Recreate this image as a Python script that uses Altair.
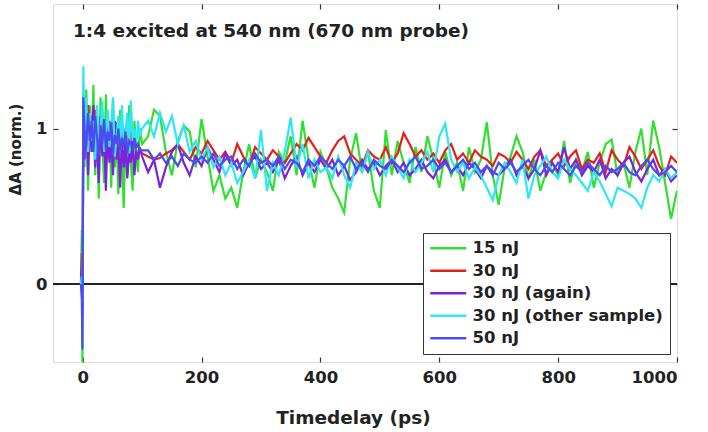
import altair as alt
import pandas as pd

# ---- data ----
TIME = [-3, -1.5, -0.5, 0, 1,
        3, 6, 9, 12, 15, 18, 21, 24, 27, 30, 33, 36, 39, 42, 45, 48,
        51, 54, 57, 60, 63, 66, 69, 72, 75, 78, 81, 84, 87, 90, 93, 96,
        100,
        110, 120, 130, 140, 150, 160, 170, 180, 190, 200,
        210, 220, 230, 240, 250, 260, 270, 280, 290, 300,
        310, 320, 330, 340, 350, 360, 370, 380, 390, 400,
        410, 420, 430, 440, 450, 460, 470, 480, 490, 500,
        510, 520, 530, 540, 550, 560, 570, 580, 590, 600,
        610, 620, 630, 640, 650, 660, 670, 680, 690, 700,
        710, 720, 730, 740, 750, 760, 770, 780, 790, 800,
        810, 820, 830, 840, 850, 860, 870, 880, 890, 900,
        910, 920, 930, 940, 950, 960, 970, 980, 990, 1000]

SERIES = ["15 nJ", "30 nJ", "30 nJ (again)", "30 nJ (other sample)", "50 nJ"]
COLORS = ["#2fe02f", "#e3211c", "#7a22dc", "#30e6f4", "#4b4cee"]

green = [0.0, 0.35, -0.55, 0.2, 1.15,
         0.75, 1.25, 0.60, 1.15, 0.85, 1.28, 0.70, 1.10, 0.55, 1.20,
         0.90, 0.65, 1.22, 0.80, 1.05, 0.62, 1.18, 0.75, 0.95, 0.58,
         1.12, 0.82, 0.49, 1.00, 0.70, 1.15, 0.78, 0.60, 1.05, 0.85,
         0.72, 1.00,
         0.90,
         0.95, 1.12, 1.08, 0.85, 0.70, 0.92, 1.02, 0.98, 0.75, 1.06,
         0.82, 0.60, 0.70, 0.55, 0.62, 0.49, 0.72, 0.90, 0.68, 0.80,
         0.72, 0.60, 0.85, 0.78, 0.95, 0.70, 1.05, 0.80, 0.62, 0.85,
         0.75, 0.62, 0.55, 0.46, 0.80, 0.97, 0.72, 0.85, 0.60, 0.49,
         0.99, 0.70, 0.92, 0.78, 0.65, 0.88, 0.72, 0.95, 0.80, 0.62,
         0.85, 0.70, 0.78, 0.60, 0.88, 0.72, 0.80, 1.04, 0.70, 0.51,
         0.75, 0.82, 0.95, 0.85, 0.68, 0.80, 0.60, 0.72, 0.78, 0.70,
         0.92, 0.65, 0.80, 0.72, 0.85, 0.62, 0.78, 0.90, 0.93, 0.70,
         0.78, 0.62, 0.85, 1.00, 0.70, 1.05, 0.88, 0.65, 0.42, 0.60]

red = [0.0, 0.2, -0.15, 0.1, 1.22,
       1.05, 0.95, 1.15, 0.90, 1.08, 0.98, 1.12, 0.88, 1.02, 0.95,
       1.10, 0.85, 1.00, 0.92, 1.05, 0.88, 0.98, 0.90, 1.04, 0.86,
       0.96, 0.92, 1.00, 0.85, 0.95, 0.90, 0.98, 0.84, 0.92, 0.88,
       0.90, 0.86,
       0.84,
       0.82, 0.80, 0.81, 0.84, 0.86, 0.90, 0.85, 0.80, 0.88, 0.84,
       0.92, 0.86, 0.80, 0.85, 0.78, 0.90, 0.82, 0.76, 0.88, 0.84,
       0.80, 0.86, 0.82, 0.78, 0.84, 0.90, 0.86, 0.94, 0.88, 0.82,
       0.78, 0.86, 0.92, 0.95, 0.84, 0.80, 0.76, 0.86, 0.82, 0.80,
       0.88, 0.78, 0.84, 0.97, 0.90, 0.82, 0.86, 0.80, 0.84, 0.78,
       0.86, 0.90, 0.80, 0.84, 0.78, 0.86, 0.82, 0.80, 0.76, 0.84,
       0.82, 0.78, 0.85, 0.80, 0.74, 0.82, 0.86, 0.76, 0.80, 0.84,
       0.76, 0.82, 0.86, 0.74, 0.80, 0.78, 0.84, 0.72, 0.86, 0.80,
       0.76, 0.88, 0.82, 0.74, 0.80, 0.86, 0.76, 0.70, 0.82, 0.78]

purple = [0.0, 0.1, -0.2, 0.0, 1.10,
          0.80, 1.10, 0.70, 1.05, 0.85, 1.15, 0.75, 0.95, 0.65, 1.08,
          0.82, 0.98, 0.60, 1.02, 0.78, 0.92, 0.70, 1.05, 0.80, 0.88,
          0.62, 0.95, 0.75, 0.90, 0.68, 0.85, 0.78, 0.92, 0.70, 0.86,
          0.80, 0.88,
          0.82,
          0.72, 0.80, 0.62, 0.75, 0.85, 0.90, 0.78, 0.70, 0.82, 0.76,
          0.88, 0.80, 0.72, 0.84, 0.76, 0.80, 0.70, 0.78, 0.82, 0.74,
          0.78, 0.72, 0.80, 0.68, 0.76, 0.82, 0.70, 0.78, 0.72, 0.80,
          0.74, 0.80, 0.70, 0.76, 0.67, 0.72, 0.80, 0.74, 0.78, 0.70,
          0.76, 0.80, 0.72, 0.78, 0.70, 0.74, 0.80, 0.72, 0.68, 0.76,
          0.80, 0.72, 0.76, 0.70, 0.78, 0.74, 0.68, 0.76, 0.72, 0.70,
          0.74, 0.80, 0.70, 0.76, 0.68, 0.74, 0.86, 0.70, 0.78, 0.72,
          0.88, 0.74, 0.80, 0.70, 0.76, 0.72, 0.80, 0.68, 0.74, 0.70,
          0.78, 0.82, 0.72, 0.66, 0.74, 0.80, 0.70, 0.74, 0.66, 0.70]

cyan = [0.0, 0.05, -0.3, 0.0, 1.40,
        0.95, 1.20, 0.85, 1.10, 0.92, 1.05, 0.80, 1.15, 0.90, 1.00,
        1.18, 0.85, 0.98, 1.12, 0.88, 1.02, 1.20, 0.82, 0.95, 1.08,
        0.86, 1.15, 0.90, 0.98, 1.10, 0.84, 1.18, 0.92, 1.00, 0.88,
        1.05, 0.95,
        1.00,
        1.05, 0.95, 1.10, 0.98, 1.08, 0.90, 1.02, 0.85, 0.92, 0.80,
        0.88, 0.75, 0.82, 0.70, 0.78, 0.65, 0.72, 0.80, 0.68, 0.99,
        0.60, 0.78, 0.70, 0.85, 1.07, 0.75, 0.90, 0.68, 0.80, 0.72,
        0.75, 0.68, 0.82, 0.70, 0.62, 0.78, 0.72, 0.85, 0.74, 0.80,
        0.70, 0.82, 0.75, 0.68, 0.80, 0.72, 0.78, 0.85, 0.72, 0.95,
        1.03, 0.80, 0.72, 0.78, 0.68, 0.75, 0.70, 0.62, 0.54, 0.70,
        0.78, 0.72, 0.65, 0.80, 0.55, 0.70, 0.76, 0.82, 0.72, 0.68,
        0.80, 0.74, 0.70, 0.65, 0.60, 0.72, 0.66, 0.58, 0.50, 0.62,
        0.60, 0.58, 0.55, 0.49, 0.62, 0.70, 0.66, 0.74, 0.68, 0.72]

blue = [0.0, -0.1, -0.42, 0.0, 1.20,
        1.00, 0.88, 1.10, 0.92, 1.05, 0.85, 1.08, 0.95, 0.82, 1.02,
        0.90, 1.06, 0.86, 0.98, 0.92, 1.04, 0.84, 0.96, 0.90, 1.00,
        0.86, 0.94, 0.88, 0.98, 0.84, 0.92, 0.90, 0.86, 0.94, 0.88,
        0.90, 0.86,
        0.86,
        0.86, 0.80, 0.84, 0.78, 0.82, 0.76, 0.84, 0.80, 0.78, 0.82,
        0.78, 0.84, 0.76, 0.80, 0.82, 0.74, 0.80, 0.76, 0.84, 0.78,
        0.80, 0.76, 0.82, 0.74, 0.80, 0.78, 0.72, 0.80, 0.76, 0.82,
        0.78, 0.74, 0.80, 0.76, 0.82, 0.74, 0.78, 0.72, 0.80, 0.76,
        0.74, 0.80, 0.76, 0.72, 0.78, 0.82, 0.74, 0.76, 0.80, 0.74,
        0.78, 0.72, 0.76, 0.80, 0.74, 0.78, 0.72, 0.76, 0.70, 0.78,
        0.74, 0.78, 0.72, 0.76, 0.80, 0.74, 0.70, 0.76, 0.72, 0.78,
        0.74, 0.70, 0.76, 0.72, 0.78, 0.74, 0.70, 0.76, 0.72, 0.74,
        0.78, 0.72, 0.70, 0.76, 0.80, 0.74, 0.70, 0.72, 0.76, 0.72]

X_TICKS = [0, 200, 400, 600, 800, 1000]
Y_TICKS = [0, 1]

rows = []
for name, vals in zip(SERIES, [green, red, purple, cyan, blue]):
    assert len(vals) == len(TIME), (name, len(vals), len(TIME))
    for t, v in zip(TIME, vals):
        rows.append({"t": t, "v": v, "series": name})
df = pd.DataFrame(rows)

FONT = "DejaVu Sans"
INK = "#222222"
TICK = "#333333"
xscale = alt.Scale(domain=[-50, 1000], nice=False, zero=False)
yscale = alt.Scale(domain=[-0.5, 1.8], nice=False, zero=False)

common = dict(offset=-5, tickSize=5, domain=False, grid=False,
              tickColor=TICK, tickWidth=1.2,
              labelFont=FONT, labelFontSize=16.5, labelFontWeight="bold",
              labelColor=INK, titleFont=FONT, titleFontWeight="bold",
              titleColor=INK)

zero = alt.Chart(df).mark_rule(color="#222222", strokeWidth=1.3).encode(
    y=alt.YDatum(0, scale=yscale, axis=None)
)

lines = alt.Chart(df).mark_line(strokeWidth=2.2, clip=True).encode(
    x=alt.X("t:Q", scale=xscale,
            axis=alt.Axis(title="Timedelay (ps)", values=X_TICKS, orient="bottom",
                          format="d", labelPadding=7, titleX=300, titleY=60,
                          titleFontSize=18.5, titleBaseline="middle",
                          **common)),
    y=alt.Y("v:Q", scale=yscale,
            axis=alt.Axis(title="ΔA (norm.)", values=Y_TICKS, orient="left",
                          format="d", labelPadding=6, titleX=-43, titleY=145,
                          titleFontSize=15, titleBaseline="middle",
                          **common)),
    color=alt.Color("series:N",
                    scale=alt.Scale(domain=SERIES, range=COLORS),
                    legend=alt.Legend(title=None, orient="none",
                                      legendX=370, legendY=229,
                                      symbolType="M-3,0H3", symbolSize=144,
                                      symbolStrokeWidth=2.5, symbolOffset=10,
                                      labelOffset=16, rowPadding=5.5,
                                      padding=7, labelFontSize=16.5,
                                      labelLimit=400,
                                      labelFont=FONT, labelFontWeight="bold",
                                      labelColor=INK, strokeColor="#333333",
                                      fillColor="white")),
)

mirror = alt.Chart(df).mark_point(opacity=0).encode(
    x=alt.X("t:Q", scale=xscale,
            axis=alt.Axis(title=None, values=X_TICKS, orient="top", labels=False,
                          **common)),
    y=alt.Y("v:Q", scale=yscale,
            axis=alt.Axis(title=None, values=Y_TICKS, orient="right", labels=False,
                          **common)),
)

chart = alt.layer(zero, lines, mirror).resolve_axis(
    x="independent", y="independent"
).properties(
    width=624, height=358,
    padding={"left": 53, "top": 4, "right": 31, "bottom": 70},
    autosize=alt.AutoSizeParams(type="none"),
    title=alt.TitleParams("1:4 excited at 540 nm (670 nm probe)", anchor="start",
                          frame="group", dx=20, dy=52, offset=0,
                          baseline="alphabetic", fontSize=18.5, font=FONT,
                          fontWeight="bold", color=INK),
).configure_view(
    stroke="#333333", strokeWidth=1.5
).configure(background="white")

chart.save("out.html", embed_options={"renderer": "svg", "actions": False})
